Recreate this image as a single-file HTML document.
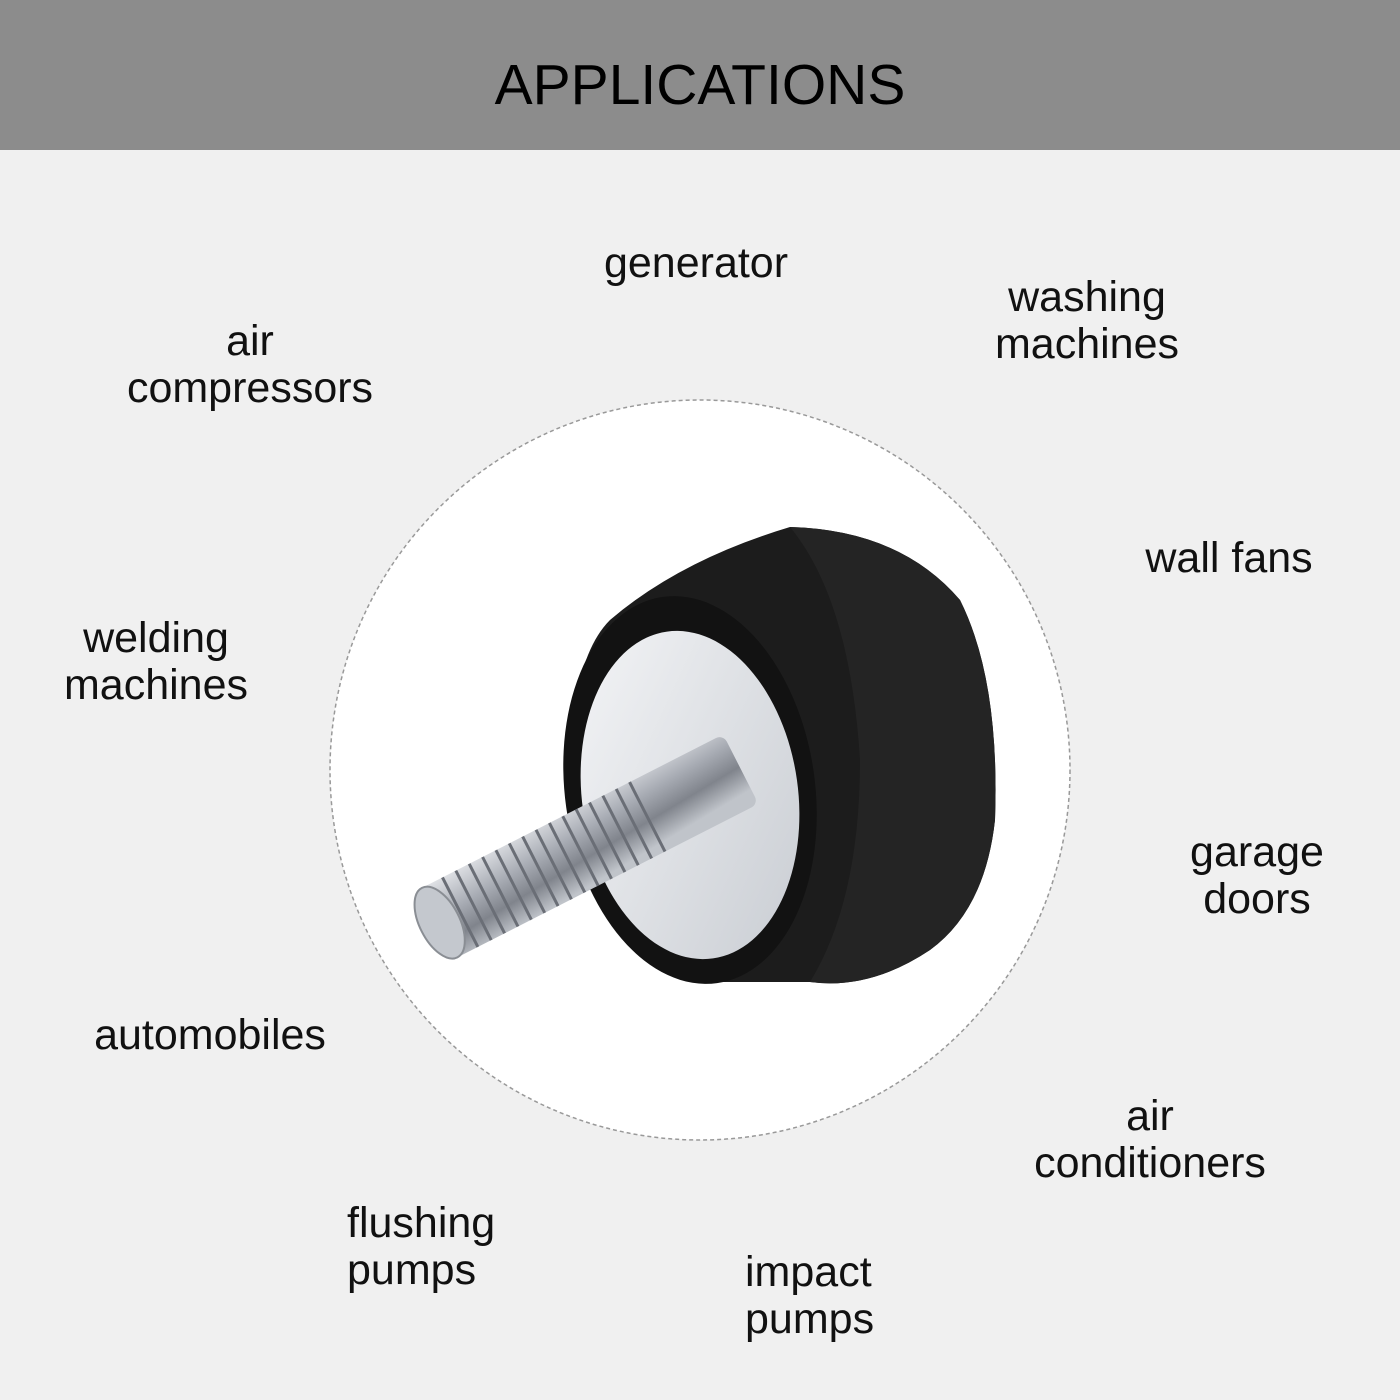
<!DOCTYPE html>
<html><head><meta charset="utf-8"><style>
html,body{margin:0;padding:0}
body{width:1400px;height:1400px;background:#f0f0f0;position:relative;overflow:hidden;font-family:"Liberation Sans",sans-serif;color:#111}
.hdr{position:absolute;left:0;top:0;width:1400px;height:150px;background:#8c8c8c}
.hdr div{position:absolute;left:0;width:1400px;top:52px;text-align:center;font-size:57px;line-height:66px;color:#000}
.l{position:absolute;font-size:43px;line-height:47px;text-align:center;transform:translateX(-50%);white-space:nowrap}
.ll{position:absolute;font-size:43px;line-height:47px;text-align:left;white-space:nowrap}
</style></head><body>
<div class="hdr"><div>APPLICATIONS</div></div>
<svg style="position:absolute;left:0;top:0" width="1400" height="1400">
<defs>
<linearGradient id="bolt" x1="0" y1="0" x2="0.3" y2="1">
<stop offset="0" stop-color="#e0e2e6"/><stop offset="0.4" stop-color="#a8acb4"/><stop offset="0.7" stop-color="#80848c"/><stop offset="1" stop-color="#c0c4ca"/></linearGradient>
<linearGradient id="disk" x1="0" y1="0" x2="1" y2="1">
<stop offset="0" stop-color="#f4f5f7"/><stop offset="1" stop-color="#c8ccd2"/></linearGradient>
</defs>
<circle cx="700" cy="770" r="370" fill="#fff" stroke="#999" stroke-width="1.5" stroke-dasharray="4 3"/>
<path d="M610 620 Q680 560 790 527 Q900 530 960 600 Q1000 680 995 820 Q985 910 930 950 Q870 990 810 982 L700 982 Q620 950 580 860 Q555 760 580 680 Q590 640 610 620 Z" fill="#1c1c1c"/>
<path d="M790 527 Q900 530 960 600 Q1000 680 995 820 Q985 910 930 950 Q870 990 810 982 Q860 900 860 760 Q850 600 790 527 Z" fill="#242424"/>
<ellipse cx="690" cy="790" rx="125" ry="195" transform="rotate(-8 690 790)" fill="#121212"/>
<ellipse cx="690" cy="795" rx="108" ry="165" transform="rotate(-8 690 795)" fill="url(#disk)"/>
<g transform="rotate(-27 580 850)">
<rect x="420" y="812" width="340" height="78" rx="8" fill="url(#bolt)"/>
<g stroke="#6a6e76" stroke-width="3">
<line x1="445" y1="812" x2="445" y2="890"/><line x1="460" y1="812" x2="460" y2="890"/><line x1="475" y1="812" x2="475" y2="890"/><line x1="490" y1="812" x2="490" y2="890"/><line x1="505" y1="812" x2="505" y2="890"/><line x1="520" y1="812" x2="520" y2="890"/><line x1="535" y1="812" x2="535" y2="890"/><line x1="550" y1="812" x2="550" y2="890"/><line x1="565" y1="812" x2="565" y2="890"/><line x1="580" y1="812" x2="580" y2="890"/><line x1="595" y1="812" x2="595" y2="890"/><line x1="610" y1="812" x2="610" y2="890"/><line x1="625" y1="812" x2="625" y2="890"/><line x1="640" y1="812" x2="640" y2="890"/><line x1="655" y1="812" x2="655" y2="890"/>
</g>
<ellipse cx="422" cy="851" rx="20" ry="39" fill="#c4c8ce" stroke="#8a8e94" stroke-width="2"/>
</g>
</svg>
<div class="l" style="left:696px;top:240px">generator</div>
<div class="l" style="left:1087px;top:274px">washing<br>machines</div>
<div class="l" style="left:250px;top:318px">air<br>compressors</div>
<div class="l" style="left:1229px;top:535px">wall fans</div>
<div class="l" style="left:156px;top:615px">welding<br>machines</div>
<div class="l" style="left:1257px;top:829px">garage<br>doors</div>
<div class="l" style="left:210px;top:1012px">automobiles</div>
<div class="l" style="left:1150px;top:1093px">air<br>conditioners</div>
<div class="ll" style="left:347px;top:1200px">flushing<br>pumps</div>
<div class="ll" style="left:745px;top:1249px">impact<br>pumps</div>
</body></html>
